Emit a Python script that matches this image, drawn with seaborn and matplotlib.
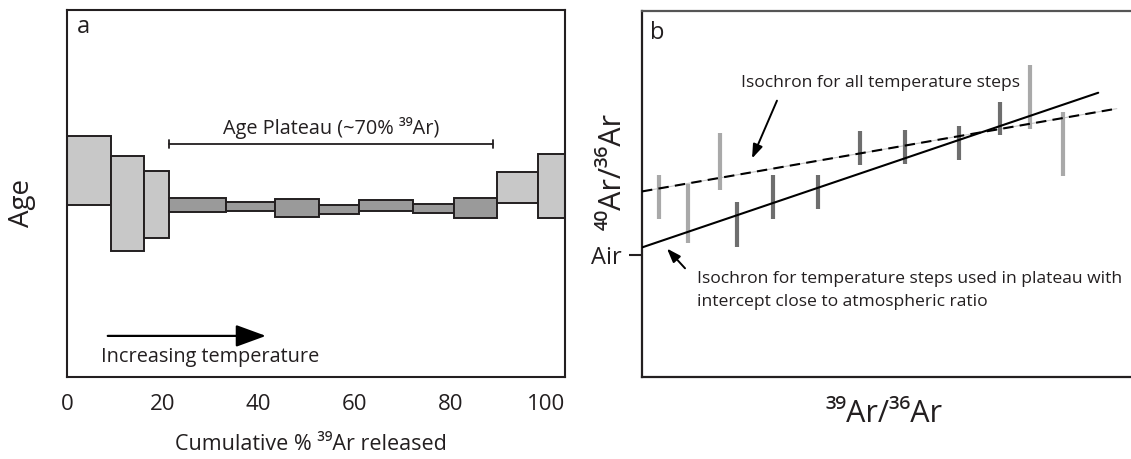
import matplotlib
matplotlib.use("Agg")
import matplotlib.pyplot as plt
import numpy as np
import pandas as pd
import seaborn as sns

# ---- Panel a: step-heating age spectrum -------------------------------
step_edges = [0, 9.1, 16.1, 21.3, 33.2, 43.5, 52.6, 61.0, 72.2, 80.8, 89.7, 98.3, 104.5]
step_age_low = [46.9, 34.3, 37.9, 45.0, 45.2, 43.6, 44.4, 45.2, 44.7, 43.3, 47.4, 43.3]
step_age_high = [65.7, 60.2, 56.1, 48.8, 47.7, 48.5, 46.9, 48.2, 47.1, 48.8, 55.9, 60.8]
step_in_plateau = [False, False, False, True, True, True, True, True, True, True, False, False]
pct_ticks = [0, 20, 40, 60, 80, 100]
plateau_span = [21.3, 88.9]
plateau_level = 63.5
heating_arrow = [8.5, 41.5]
heating_arrow_level = 11.2

# ---- Panel b: isochron diagram ----------------------------------------
iso_x = [3.5, 9.4, 16.0, 19.4, 26.8, 36.0, 44.6, 53.8, 64.8, 73.2, 79.3, 86.1]
iso_y_low = [43.1, 36.5, 51.0, 35.4, 43.1, 46.0, 58.0, 58.3, 59.4, 66.2, 67.8, 54.8]
iso_y_high = [55.3, 52.6, 66.8, 47.7, 55.3, 55.3, 67.3, 67.6, 68.7, 75.2, 85.3, 72.5]
iso_in_plateau = [False, False, False, True, True, True, True, True, True, True, False, False]
all_steps_fit = {"intercept": 50.7, "slope": 0.233, "x_end": 97.1}
plateau_fit = {"intercept": 35.4, "slope": 0.453, "x_end": 93.3}
air_ratio = 33.2

sns.set_theme(style="white")
plt.rcParams["font.family"] = ["Open Sans", "DejaVu Sans"]

INK = "#231f20"
LIGHT_BOX = "#c8c8c8"
DARK_BOX = "#9a9a9a"
LIGHT_BAR = "#a9a9a9"
DARK_BAR = "#6e6e6e"

W, H = 1131, 459
fig = plt.figure(figsize=(W / 100, H / 100), dpi=100)
ax_a = fig.add_axes([67 / W, (H - 377) / H, 498 / W, 367 / H])
ax_b = fig.add_axes([642 / W, (H - 377) / H, 489 / W, 366 / H])

# ---------------- panel a ----------------
steps = pd.DataFrame({
    "left": step_edges[:-1],
    "width": np.diff(step_edges),
    "low": step_age_low,
    "high": step_age_high,
    "plateau": step_in_plateau,
})
ax_a.bar(steps["left"], steps["high"] - steps["low"], width=steps["width"],
         bottom=steps["low"], align="edge",
         color=[DARK_BOX if p else LIGHT_BOX for p in steps["plateau"]],
         edgecolor=INK, linewidth=1.4, zorder=2)

ax_a.set_xlim(1.3, 103.9)
ax_a.set_ylim(0, 100)
ax_a.set_xticks(pct_ticks)
ax_a.set_xticklabels([str(t) for t in pct_ticks])
ax_a.set_yticks([])
ax_a.tick_params(axis="x", length=0, labelsize=16, pad=12, colors=INK)
for s in ax_a.spines.values():
    s.set_color(INK)
    s.set_linewidth(1.5)
    s.set_visible(True)

ax_a.set_ylabel("Age", fontsize=20, color=INK, ha="center", va="center")
ax_a.yaxis.set_label_coords(-0.090, 0.474)
ax_a.set_xlabel("Cumulative % ³⁹Ar released", fontsize=15.5, color=INK,
                ha="center", va="center")
ax_a.xaxis.set_label_coords(0.49, -0.183)

# plateau bracket
cap = 1.2
ax_a.plot(plateau_span, [plateau_level] * 2, color=INK, lw=1.3)
for xe in plateau_span:
    ax_a.plot([xe, xe], [plateau_level - cap, plateau_level + cap], color=INK, lw=1.3)
ax_a.text(np.mean(plateau_span), plateau_level + 4.4, "Age Plateau (~70% ³⁹Ar)",
          ha="center", va="center", fontsize=14.3, color=INK)

# heating direction arrow
ax_a.annotate("", xy=(heating_arrow[1], heating_arrow_level),
              xytext=(heating_arrow[0], heating_arrow_level),
              arrowprops=dict(arrowstyle="-|>,head_length=0.93,head_width=0.34",
                              color="black", lw=1.6, mutation_scale=20,
                              shrinkA=0, shrinkB=0))
ax_a.text(7.0, 5.4, "Increasing temperature", ha="left", va="center",
          fontsize=14.3, color=INK)
ax_a.text(0.034, 0.954, "a", transform=ax_a.transAxes, ha="center", va="center",
          fontsize=17, color=INK)

# ---------------- panel b ----------------
ax_b.set_xlim(0, 100)
ax_b.set_ylim(0, 100)

for fit, style in ((plateau_fit, "-"), (all_steps_fit, (0, (5, 3)))):
    xs = np.array([0.0, fit["x_end"]])
    ys = fit["intercept"] + fit["slope"] * xs
    if style != "-":
        ax_b.plot(xs, ys, color="#c8c8c8", lw=0.8, zorder=1)
    sns.lineplot(x=xs, y=ys, ax=ax_b, color="black", lw=1.5, linestyle=style,
                 zorder=3, estimator=None, sort=False)

ax_b.vlines(iso_x, iso_y_low, iso_y_high,
            colors=[DARK_BAR if p else LIGHT_BAR for p in iso_in_plateau],
            lw=3.0, zorder=2)

ax_b.set_xticks([])
ax_b.set_yticks([air_ratio])
ax_b.set_yticklabels(["Air"])
ax_b.tick_params(axis="y", left=True, length=9.4, width=1.5, labelsize=17,
                 pad=5, colors=INK)
for name, s in ax_b.spines.items():
    s.set_color(INK)
    s.set_linewidth(1.6)
ax_b.spines["right"].set_visible(False)
ax_b.spines["top"].set_color("#555555")

ax_b.set_ylabel("⁴⁰Ar/³⁶Ar", fontsize=22, color=INK, ha="center", va="center")
ax_b.yaxis.set_label_coords(-0.059, 0.562)
ax_b.set_xlabel("³⁹Ar/³⁶Ar", fontsize=22, color=INK, ha="center", va="center")
ax_b.xaxis.set_label_coords(0.494, -0.10)

ax_b.text(20.2, 80.4, "Isochron for all temperature steps", ha="left", va="center",
          fontsize=12.6, color=INK)
ax_b.annotate("", xy=(22.5, 59.7), xytext=(27.6, 75.5),
              arrowprops=dict(arrowstyle="-|>,head_length=0.7,head_width=0.25",
                              color="black", lw=1.4, mutation_scale=12,
                              shrinkA=0, shrinkB=0))
ax_b.text(11.2, 26.8, "Isochron for temperature steps used in plateau with",
          ha="left", va="center", fontsize=12.6, color=INK)
ax_b.text(11.2, 20.4, "intercept close to atmospheric ratio",
          ha="left", va="center", fontsize=12.6, color=INK)
ax_b.annotate("", xy=(5.1, 35.1), xytext=(8.8, 29.7),
              arrowprops=dict(arrowstyle="-|>,head_length=0.7,head_width=0.25",
                              color="black", lw=1.4, mutation_scale=12,
                              shrinkA=0, shrinkB=0))
ax_b.text(0.031, 0.94, "b", transform=ax_b.transAxes, ha="center", va="center",
          fontsize=17, color=INK)

fig.savefig("out.png", dpi=100)
